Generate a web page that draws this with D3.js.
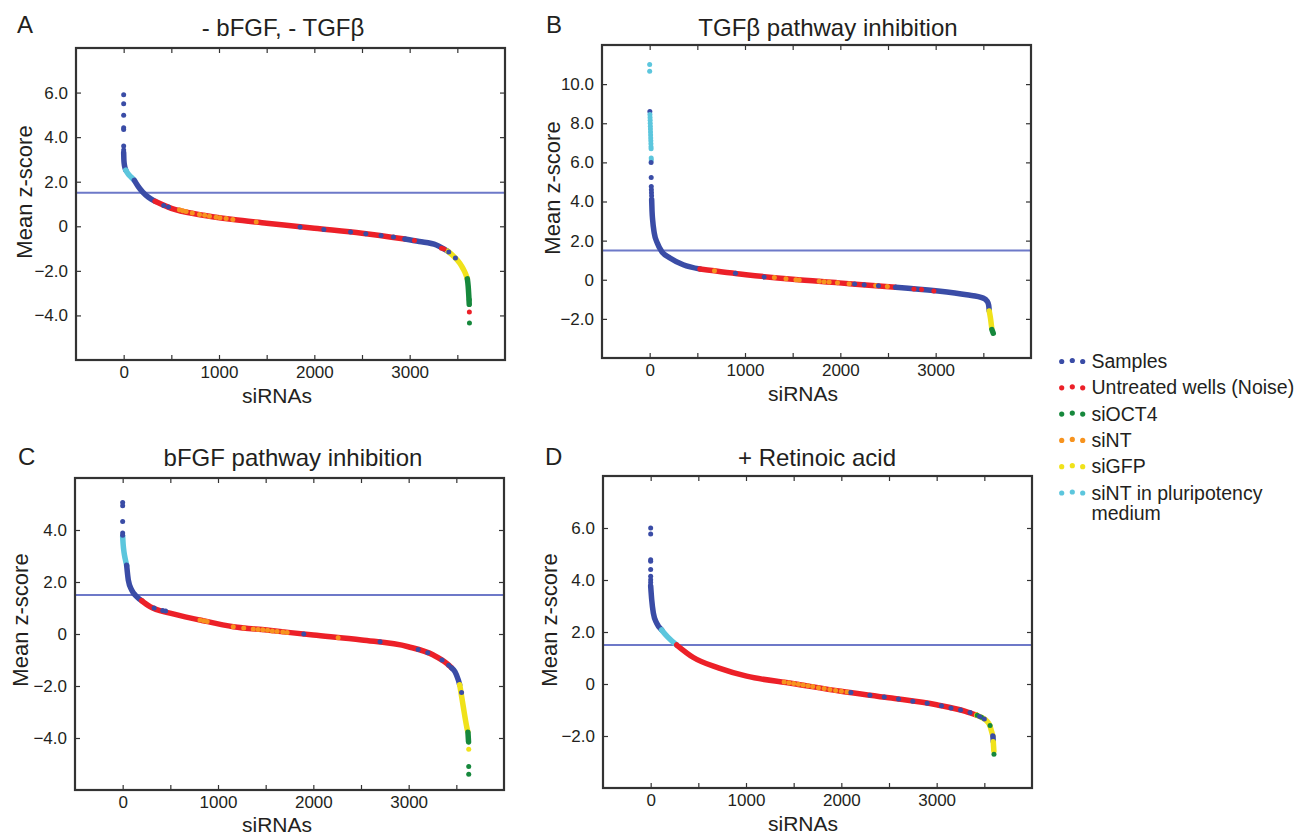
<!DOCTYPE html>
<html>
<head>
<meta charset="utf-8">
<script src="https://cdn.jsdelivr.net/npm/d3@7"></script>
<style>
  body { margin: 0; background: #fff; }
  text { font-family: "Liberation Sans", Arial, sans-serif; fill: #231f20; }
</style>
</head>
<body>
<div id="chart"></div>
<script>
// categories (legend order)
var catKeys = ["S", "U", "O", "N", "G", "P"];
var catLabels = ["Samples", "Untreated wells (Noise)", "siOCT4", "siNT", "siGFP", "siNT in pluripotency medium"];
var catColors = ["#3a4ca6", "#ec2028", "#16883c", "#f7931e", "#f0e21b", "#5cc6dd"];

var xTickMarks = [0, 500, 1000, 1500, 2000, 2500, 3000, 3500];
var xTickLabels = [0, 1000, 2000, 3000];
var threshold = 1.5;

// Panel A : - bFGF, - TGFb  (runs = dense band of ranked siRNAs, [rank, z])
var runsA = [
  ["S", [[0, 3.3], [2, 3.0], [6, 2.8], [14, 2.62], [22, 2.52]]],
  ["P", [[22, 2.52], [45, 2.36], [80, 2.2], [112, 2.06]]],
  ["S", [[112, 2.06], [150, 1.8], [200, 1.53], [260, 1.3], [330, 1.12]]],
  ["U", [[330, 1.12], [500, 0.8], [800, 0.52], [1150, 0.3], [1500, 0.14], [2000, -0.09], [2500, -0.31], [2950, -0.57]]],
  ["S", [[2950, -0.57], [3100, -0.68], [3280, -0.84], [3400, -1.12]]],
  ["G", [[3400, -1.12], [3470, -1.38], [3526, -1.66], [3560, -1.9], [3585, -2.12], [3605, -2.36]]],
  ["O", [[3605, -2.36], [3614, -2.7], [3620, -3.1], [3625, -3.5]]]
];
var dotsA = [
  [0, 5.9, "S"], [0, 5.5, "S"], [0, 4.98, "S"], [0, 4.42, "S"], [0, 4.34, "S"], [0, 3.6, "S"], [0, 3.42, "S"],
  [420, 0.93, "S"], [470, 0.86, "S"], [1850, -0.03, "S"], [2100, -0.14, "S"], [2380, -0.26, "S"], [2540, -0.33, "S"], [2700, -0.41, "S"], [2830, -0.48, "S"],
  [585, 0.74, "N"], [620, 0.7, "N"], [655, 0.66, "N"], [720, 0.6, "N"], [795, 0.53, "N"], [850, 0.49, "N"], [900, 0.45, "N"],
  [970, 0.41, "N"], [1010, 0.38, "N"], [1075, 0.35, "N"], [1145, 0.31, "N"], [1390, 0.19, "N"],
  [3050, -0.64, "U"], [3334, -0.98, "U"], [3360, -1.02, "U"],
  [3410, -1.15, "S"], [3480, -1.42, "S"],
  [3625, -3.3, "O"], [3626, -3.85, "U"], [3627, -4.34, "O"]
];
var yTicksA = [-4, -2, 0, 2, 4, 6];

// Panel B : TGFb pathway inhibition
var runsB = [
  ["S", [[21, 4.1], [25, 3.5], [31, 3.07], [48, 2.39], [80, 1.88], [126, 1.45], [213, 1.11], [352, 0.77], [528, 0.55]]],
  ["U", [[528, 0.55], [1011, 0.26], [1499, 0.02], [1987, -0.16], [2300, -0.28], [2580, -0.38]]],
  ["S", [[2580, -0.38], [2999, -0.56], [3325, -0.77], [3499, -0.94], [3540, -1.1], [3556, -1.3], [3562, -1.6]]],
  ["G", [[3562, -1.6], [3576, -2.0], [3588, -2.47]]],
  ["O", [[3590, -2.55], [3604, -2.73]]]
];
var dotsB = [
  [0, 11.0, "P"], [0, 10.66, "P"], [2, 8.6, "S"],
  [3, 8.45, "P"], [4, 8.3, "P"], [5, 8.15, "P"], [6, 8.0, "P"], [7, 7.85, "P"], [8, 7.7, "P"], [9, 7.55, "P"], [10, 7.4, "P"],
  [11, 7.25, "P"], [12, 7.1, "P"], [13, 6.95, "P"], [14, 6.8, "P"], [15, 6.7, "P"], [16, 6.22, "P"], [17, 6.12, "P"],
  [15, 6.0, "S"], [16, 5.23, "S"], [17, 4.77, "S"], [18, 4.6, "S"], [19, 4.45, "S"], [20, 4.3, "S"],
  [680, 0.46, "N"], [1308, 0.11, "N"], [1430, 0.05, "N"], [1534, 0.0, "N"], [1569, -0.01, "N"], [1778, -0.08, "N"],
  [1830, -0.1, "N"], [1883, -0.12, "N"], [1970, -0.15, "N"], [2092, -0.2, "N"], [2371, -0.3, "N"], [2493, -0.35, "N"],
  [900, 0.33, "S"], [1200, 0.14, "S"], [2150, -0.22, "S"], [2250, -0.26, "S"], [2400, -0.31, "S"],
  [2772, -0.47, "U"], [2852, -0.5, "U"], [2981, -0.57, "U"]
];
var yTicksB = [-2, 0, 2, 4, 6, 8, 10];

// Panel C : bFGF pathway inhibition
var runsC = [
  ["P", [[0, 3.75], [5, 3.45], [14, 3.15], [26, 2.9], [42, 2.64]]],
  ["S", [[42, 2.64], [59, 2.08], [95, 1.69], [147, 1.44], [200, 1.28]]],
  ["U", [[200, 1.28], [287, 1.05], [496, 0.8], [811, 0.54], [1161, 0.28], [1511, 0.15], [2000, -0.04], [2507, -0.23], [2996, -0.49], [3259, -0.81], [3399, -1.13], [3450, -1.3]]],
  ["S", [[3450, -1.3], [3486, -1.45], [3521, -1.77], [3535, -1.95]]],
  ["G", [[3535, -1.95], [3545, -2.16], [3573, -2.8], [3609, -3.57], [3620, -3.75]]],
  ["O", [[3622, -3.78], [3628, -4.15]]]
];
var dotsC = [
  [0, 5.06, "S"], [0, 4.93, "S"], [0, 4.33, "S"], [0, 3.88, "S"], [0, 3.8, "S"],
  [811, 0.54, "N"], [850, 0.51, "N"], [886, 0.48, "N"], [1160, 0.28, "N"], [1270, 0.23, "N"], [1370, 0.19, "N"], [1420, 0.17, "N"],
  [1470, 0.16, "N"], [1520, 0.14, "N"], [1570, 0.12, "N"], [1620, 0.1, "N"], [1680, 0.08, "N"], [1725, 0.06, "N"], [2260, -0.14, "N"],
  [330, 1.0, "S"], [420, 0.9, "S"], [450, 0.88, "S"], [1900, 0.0, "S"], [2700, -0.3, "S"], [3100, -0.6, "S"], [3200, -0.72, "S"],
  [3350, -1.0, "S"], [3420, -1.2, "S"],
  [3555, -2.25, "S"], [3630, -4.43, "G"], [3630, -5.1, "O"], [3630, -5.39, "O"]
];
var yTicksC = [-4, -2, 0, 2, 4];

// Panel D : + Retinoic acid
var runsD = [
  ["S", [[0, 3.78], [11, 3.24], [28, 2.73], [63, 2.34], [115, 2.08]]],
  ["P", [[115, 2.08], [180, 1.8], [273, 1.5]]],
  ["U", [[273, 1.5], [448, 1.02], [710, 0.62], [1007, 0.3], [1488, 0.02], [1995, -0.28], [2500, -0.53], [2999, -0.8], [3302, -1.05], [3420, -1.2]]],
  ["G", [[3420, -1.2], [3480, -1.3], [3525, -1.42], [3560, -1.62], [3577, -1.84], [3590, -2.0]]],
  ["S", [[3590, -2.0], [3594, -2.22]]],
  ["G", [[3594, -2.22], [3597, -2.4], [3600, -2.58]]]
];
var dotsD = [
  [0, 6.0, "S"], [0, 5.77, "S"], [0, 4.78, "S"], [0, 4.72, "S"], [0, 4.4, "S"], [0, 4.14, "S"], [0, 4.01, "S"], [0, 3.9, "S"],
  [1400, 0.08, "N"], [1450, 0.05, "N"], [1500, 0.02, "N"], [1550, -0.01, "N"], [1600, -0.04, "N"], [1650, -0.07, "N"], [1700, -0.1, "N"],
  [1760, -0.14, "N"], [1820, -0.17, "N"], [1880, -0.21, "N"], [1940, -0.25, "N"], [2000, -0.28, "N"], [2060, -0.31, "N"],
  [2100, -0.33, "S"], [2300, -0.43, "S"], [2450, -0.5, "S"], [2600, -0.58, "S"], [2750, -0.66, "S"], [2900, -0.74, "S"],
  [3050, -0.84, "S"], [3150, -0.92, "S"], [3250, -1.0, "S"], [3350, -1.1, "S"],
  [3425, -1.2, "O"], [3470, -1.28, "O"], [3450, -1.25, "S"], [3500, -1.35, "S"], [3560, -1.6, "O"], [3601, -2.7, "O"]
];
var yTicksD = [-2, 0, 2, 4, 6];

var color = d3.scaleOrdinal().domain(catKeys).range(catColors);

var panels = [
  { letter: "A", title: "- bFGF, - TGFβ", runs: runsA, dots: dotsA, yDomain: [-6, 8], yTicks: yTicksA,
    box: [76, 48, 505, 360], letterPos: [17, 33], titlePos: [283, 36], yLabelPos: [32, 192], xLabelPos: [277, 403] },
  { letter: "B", title: "TGFβ pathway inhibition", runs: runsB, dots: dotsB, yDomain: [-4, 12], yTicks: yTicksB,
    box: [602, 45, 1031, 358], letterPos: [546, 33], titlePos: [828, 36], yLabelPos: [560, 188], xLabelPos: [803, 401] },
  { letter: "C", title: "bFGF pathway inhibition", runs: runsC, dots: dotsC, yDomain: [-6, 6], yTicks: yTicksC,
    box: [75, 478, 504, 790], letterPos: [18, 465], titlePos: [293, 466], yLabelPos: [28, 620], xLabelPos: [277, 832] },
  { letter: "D", title: "+ Retinoic acid", runs: runsD, dots: dotsD, yDomain: [-4, 8], yTicks: yTicksD,
    box: [603, 476, 1032, 788], letterPos: [545, 465], titlePos: [817, 466], yLabelPos: [557, 620], xLabelPos: [803, 831] }
];

var svg = d3.select("#chart").append("svg")
  .attr("width", 1310)
  .attr("height", 836);

function fmt(d) { return d === 0 ? "0" : d3.format(".1f")(d); }

panels.forEach(function(p) {
  var x = d3.scaleLinear().domain([-500, 4000]).range([p.box[0], p.box[2]]);
  var y = d3.scaleLinear().domain(p.yDomain).range([p.box[3], p.box[1]]);
  var g = svg.append("g");

  // axes, ticks pointing inward
  g.append("g").attr("transform", "translate(0," + p.box[3] + ")")
    .call(d3.axisBottom(x).tickValues(xTickMarks).tickSize(-5).tickPadding(6)
      .tickFormat(function(d) { return xTickLabels.indexOf(d) >= 0 ? d : ""; }));
  g.append("g").attr("transform", "translate(0," + p.box[1] + ")")
    .call(d3.axisTop(x).tickValues(xTickMarks).tickSize(-5).tickFormat(""));
  g.append("g").attr("transform", "translate(" + p.box[0] + ",0)")
    .call(d3.axisLeft(y).tickValues(p.yTicks).tickSize(-5).tickPadding(8).tickFormat(fmt));
  g.append("g").attr("transform", "translate(" + p.box[2] + ",0)")
    .call(d3.axisRight(y).tickValues(p.yTicks).tickSize(-5).tickFormat(""));
  g.selectAll(".domain").remove();
  g.selectAll(".tick line").attr("stroke", "#333").attr("stroke-width", 1.2);
  g.selectAll(".tick text").style("font-size", "17px").attr("fill", "#231f20");

  // threshold line
  g.append("line")
    .attr("x1", p.box[0]).attr("x2", p.box[2])
    .attr("y1", y(threshold)).attr("y2", y(threshold))
    .attr("stroke", "#6d79c8").attr("stroke-width", 2);

  // dense ranked band
  var line = d3.line().x(function(d) { return x(d[0]); }).y(function(d) { return y(d[1]); })
    .curve(d3.curveMonotoneX);
  g.selectAll(".run").data(p.runs).enter().append("path")
    .attr("class", "run")
    .attr("d", function(d) { return line(d[1]); })
    .attr("fill", "none")
    .attr("stroke", function(d) { return color(d[0]); })
    .attr("stroke-width", 5.5)
    .attr("stroke-linecap", "round")
    .attr("stroke-linejoin", "round");

  // individual siRNAs
  g.selectAll(".dot").data(p.dots).enter().append("circle")
    .attr("class", "dot")
    .attr("cx", function(d) { return x(d[0]); })
    .attr("cy", function(d) { return y(d[1]); })
    .attr("r", 2.5)
    .attr("fill", function(d) { return color(d[2]); });

  // frame
  g.append("rect")
    .attr("x", p.box[0]).attr("y", p.box[1])
    .attr("width", p.box[2] - p.box[0]).attr("height", p.box[3] - p.box[1])
    .attr("fill", "none").attr("stroke", "#333").attr("stroke-width", 2.2);

  // texts
  g.append("text").attr("x", p.letterPos[0]).attr("y", p.letterPos[1])
    .style("font-size", "24px").text(p.letter);
  g.append("text").attr("x", p.titlePos[0]).attr("y", p.titlePos[1])
    .attr("text-anchor", "middle").style("font-size", "24px").text(p.title);
  g.append("text").attr("transform", "translate(" + p.yLabelPos[0] + "," + p.yLabelPos[1] + ") rotate(-90)")
    .attr("text-anchor", "middle").style("font-size", "22px").text("Mean z-score");
  g.append("text").attr("x", p.xLabelPos[0]).attr("y", p.xLabelPos[1])
    .attr("text-anchor", "middle").style("font-size", "21px").text("siRNAs");
});

// legend
var legend = svg.append("g").attr("transform", "translate(1040,0)");
var rowY = [368, 394.3, 420.6, 446.9, 473.2, 499.5];
catKeys.forEach(function(k, i) {
  var row = legend.append("g").attr("transform", "translate(0," + rowY[i] + ")");
  [[21.7, -6.5], [32.3, -7.5], [42.7, -6.5]].forEach(function(o) {
    row.append("circle").attr("cx", o[0]).attr("cy", o[1]).attr("r", 2.6).attr("fill", catColors[i]);
  });
  var words = catLabels[i] === "siNT in pluripotency medium" ? ["siNT in pluripotency", "medium"] : [catLabels[i]];
  var t = row.append("text").attr("x", 51.5).attr("y", 0).style("font-size", "19.5px");
  words.forEach(function(w, j) {
    t.append("tspan").attr("x", 51.5).attr("dy", j === 0 ? 0 : 20.5).text(w);
  });
});
</script>
</body>
</html>
